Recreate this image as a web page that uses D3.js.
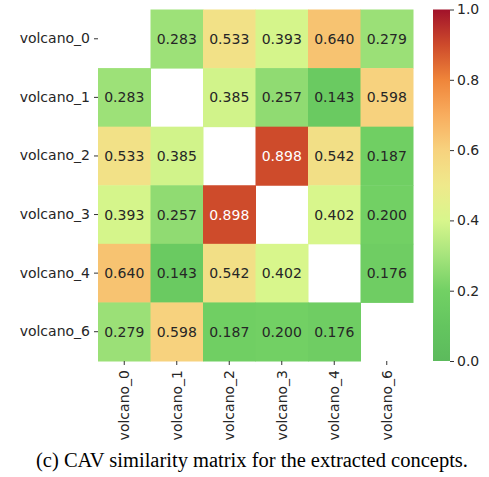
<!DOCTYPE html>
<html>
<head>
<meta charset="utf-8">
<script src="https://cdn.jsdelivr.net/npm/d3@7"></script>
<style>
  body { margin: 0; background: #fff; }
  svg text { font-family: "DejaVu Sans", sans-serif; }
</style>
</head>
<body>
<div id="chart"></div>
<script>
// concept names and similarity values (diagonal left empty)
var labels = ["volcano_0", "volcano_1", "volcano_2", "volcano_3", "volcano_4", "volcano_6"];
var row0 = [null, 0.283, 0.533, 0.393, 0.640, 0.279];
var row1 = [0.283, null, 0.385, 0.257, 0.143, 0.598];
var row2 = [0.533, 0.385, null, 0.898, 0.542, 0.187];
var row3 = [0.393, 0.257, 0.898, null, 0.402, 0.200];
var row4 = [0.640, 0.143, 0.542, 0.402, null, 0.176];
var row5 = [0.279, 0.598, 0.187, 0.200, 0.176, null];
var colorTicks = [0.0, 0.2, 0.4, 0.6, 0.8, 1.0];
var caption = "(c) CAV similarity matrix for the extracted concepts.";

// colour stops as seen in the colorbar (green -> yellow -> red)
var stopColors = ["#5cba5c", "#64c55f", "#72d064", "#a6e47c", "#d8f68c",
                  "#efe98b", "#f7d27e", "#f8ad5e", "#ef853a", "#cd4a2b", "#a1122a"];

var matrix = [row0, row1, row2, row3, row4, row5];
var cells = [];
matrix.forEach(function(r, i) {
    r.forEach(function(v, j) {
        if (v !== null) cells.push({ row: labels[i], col: labels[j], value: v });
    });
});

var width = 489, height = 477;
var gx0 = 98, gx1 = 413, gy0 = 9.5, gy1 = 361;

var svg = d3.select("#chart").append("svg")
    .attr("width", width)
    .attr("height", height);

var x = d3.scaleBand().domain(labels).range([gx0, gx1]);
var y = d3.scaleBand().domain(labels).range([gy0, gy1]);
var color = d3.scaleLinear()
    .domain(d3.range(stopColors.length).map(function(i) { return i / (stopColors.length - 1); }))
    .range(stopColors)
    .interpolate(d3.interpolateRgb);

// cells
svg.append("g").selectAll("rect")
    .data(cells)
    .enter()
    .append("rect")
    .attr("x", function(d) { return x(d.col); })
    .attr("y", function(d) { return y(d.row); })
    .attr("width", x.bandwidth() + 0.5)
    .attr("height", y.bandwidth() + 0.5)
    .attr("fill", function(d) { return color(d.value); });

// annotations
svg.append("g").selectAll("text")
    .data(cells)
    .enter()
    .append("text")
    .attr("x", function(d) { return x(d.col) + x.bandwidth() / 2; })
    .attr("y", function(d) { return y(d.row) + y.bandwidth() / 2; })
    .attr("text-anchor", "middle")
    .attr("dominant-baseline", "central")
    .style("font-size", "14px")
    .attr("fill", function(d) {
        var c = d3.rgb(color(d.value));
        var lum = 0.2126 * c.r / 255 + 0.7152 * c.g / 255 + 0.0722 * c.b / 255;
        return lum < 0.408 ? "#fff" : "#262626";
    })
    .text(function(d) { return d.value.toFixed(3); });

// y axis
var yAxis = svg.append("g")
    .attr("transform", "translate(" + gx0 + ",0)")
    .call(d3.axisLeft(y).tickSize(4).tickPadding(4));
yAxis.select(".domain").remove();
yAxis.selectAll(".tick line").attr("stroke", "#333");
yAxis.selectAll(".tick text")
    .style("font-size", "14px")
    .style("font-family", "DejaVu Sans")
    .attr("fill", "#262626");

// x axis, labels rotated
var xAxis = svg.append("g")
    .attr("transform", "translate(0," + gy1 + ")")
    .call(d3.axisBottom(x).tickSize(4).tickPadding(4));
xAxis.select(".domain").remove();
xAxis.selectAll(".tick line").attr("stroke", "#333");
xAxis.selectAll(".tick text")
    .style("font-size", "14px")
    .style("font-family", "DejaVu Sans")
    .attr("fill", "#262626")
    .attr("transform", "rotate(-90)")
    .attr("text-anchor", "end")
    .attr("x", -9)
    .attr("y", 0)
    .attr("dy", "0.35em");

// colorbar
var cbx = 433, cbw = 17;
var cScale = d3.scaleLinear().domain([0, 1]).range([gy1, gy0]);
var defs = svg.append("defs");
var grad = defs.append("linearGradient")
    .attr("id", "cbar")
    .attr("x1", "0").attr("y1", "1").attr("x2", "0").attr("y2", "0");
d3.range(0, 1.0001, 0.05).forEach(function(t) {
    grad.append("stop")
        .attr("offset", t)
        .attr("stop-color", color(t));
});
svg.append("rect")
    .attr("x", cbx)
    .attr("y", gy0)
    .attr("width", cbw)
    .attr("height", gy1 - gy0)
    .attr("fill", "url(#cbar)");

var cAxis = svg.append("g")
    .attr("transform", "translate(" + (cbx + cbw) + ",0)")
    .call(d3.axisRight(cScale).tickValues(colorTicks).tickFormat(d3.format(".1f")).tickSize(4).tickPadding(3));
cAxis.select(".domain").remove();
cAxis.selectAll(".tick line").attr("stroke", "#333");
cAxis.selectAll(".tick text")
    .style("font-size", "14px")
    .style("font-family", "DejaVu Sans")
    .attr("fill", "#262626");

// caption
svg.append("text")
    .attr("x", 252)
    .attr("y", 467)
    .attr("text-anchor", "middle")
    .style("font-family", "Liberation Serif, Times New Roman, serif")
    .style("font-size", "20.5px")
    .attr("fill", "#000")
    .text(caption);
</script>
</body>
</html>
